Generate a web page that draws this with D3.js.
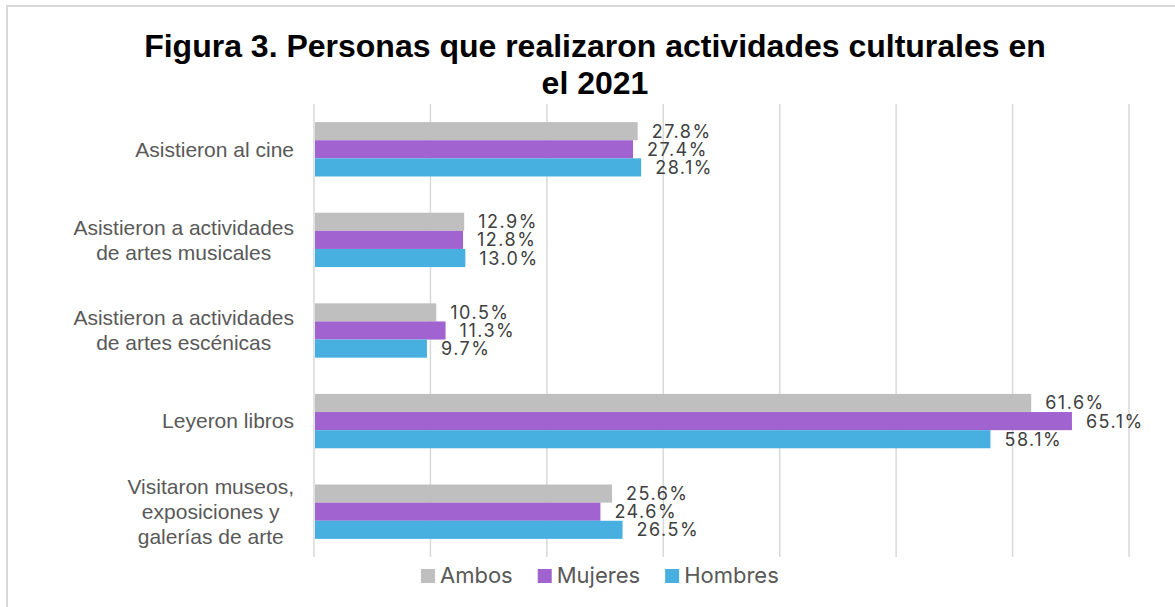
<!DOCTYPE html>
<html><head><meta charset="utf-8">
<script src="https://cdn.jsdelivr.net/npm/d3@7"></script>
<style>body{margin:0;background:#fff;}svg{display:block;}</style>
</head><body>
<script>
const categories = [
  ["Asistieron al cine"],
  ["Asistieron a actividades", "de artes musicales"],
  ["Asistieron a actividades", "de artes escénicas"],
  ["Leyeron libros"],
  ["Visitaron museos,", "exposiciones y", "galerías de arte"]
];
const seriesNames = ["Ambos", "Mujeres", "Hombres"];
const ambos   = [27.8, 12.9, 10.5, 61.6, 25.6];
const mujeres = [27.4, 12.8, 11.3, 65.1, 24.6];
const hombres = [28.1, 13.0, 9.7, 58.1, 26.5];
const xTicks = [0, 10, 20, 30, 40, 50, 60, 70];
const titleLines = ["Figura 3. Personas que realizaron actividades culturales en", "el 2021"];
const colors = ["#BFBFBF", "#A163CF", "#47B0E0"];

const W = 1175, H = 607;
const svg = d3.select("body").append("svg").attr("width", W).attr("height", H);
svg.append("rect").attr("x", 7).attr("y", 6).attr("width", W).attr("height", H)
  .attr("fill", "#fff").attr("stroke", "#D9D9D9").attr("stroke-width", 2);

// title
svg.append("g").selectAll("text").data(titleLines).join("text")
  .attr("x", 595).attr("y", (d, i) => 57 + i * 37)
  .attr("text-anchor", "middle")
  .style("font-family", "Liberation Sans, Arial, sans-serif")
  .style("font-weight", "bold").style("font-size", "32px").attr("fill", "#000")
  .text(d => d);

const x = d3.scaleLinear().domain([0, 70]).range([314, 1129]);
const keys = categories.map((c, i) => i);
const y = d3.scaleBand().domain(keys).range([104, 557]).paddingInner(0.4).paddingOuter(0.2);
const ySub = d3.scaleBand().domain(seriesNames).range([0, y.bandwidth()]);

// gridlines
svg.append("g").selectAll("line").data(xTicks).join("line")
  .attr("x1", d => x(d)).attr("x2", d => x(d)).attr("y1", 104).attr("y2", 557)
  .attr("stroke", "#D9D9D9").attr("stroke-width", 1.5);

const seriesVals = [ambos, mujeres, hombres];
const rows = [];
categories.forEach((c, i) => seriesNames.forEach((s, j) => rows.push({ i, s, j, v: seriesVals[j][i] })));

svg.append("g").selectAll("rect").data(rows).join("rect")
  .attr("x", x(0) + 1).attr("y", d => y(d.i) + ySub(d.s))
  .attr("width", d => x(d.v) - x(0) - 1).attr("height", ySub.bandwidth())
  .attr("fill", d => colors[d.j]);

svg.append("g").selectAll("text").data(rows).join("text")
  .attr("x", d => x(d.v) + 14).attr("y", d => y(d.i) + ySub(d.s) + ySub.bandwidth() / 2)
  .attr("dy", "0.36em")
  .style("font-family", "Inter, sans-serif").style("font-size", "18px")
  .style("letter-spacing", "1.5px").attr("fill", "#404040")
  .text(d => d.v.toFixed(1) + "%");

// category labels
const catG = svg.append("g");
categories.forEach((lines, i) => {
  const g = catG.append("g");
  const t = g.selectAll("text").data(lines).join("text")
    .attr("text-anchor", "middle")
    .style("font-family", "Liberation Sans, Arial, sans-serif").style("font-size", "21px")
    .attr("fill", "#595959").text(d => d);
  let maxW = 0;
  t.each(function () { maxW = Math.max(maxW, this.getComputedTextLength()); });
  const cx = 294 - maxW / 2;
  const lh = 25;
  const cy = y(i) + y.bandwidth() / 2;
  t.attr("x", cx).attr("y", (d, k) => cy + (k - (lines.length - 1) / 2) * lh).attr("dy", "0.35em");
});

// legend
const leg = svg.append("g");
let lx = 421;
seriesNames.forEach((s, j) => {
  leg.append("rect").attr("x", lx).attr("y", 569).attr("width", 14).attr("height", 14).attr("fill", colors[j]);
  const t = leg.append("text").attr("x", lx + 19).attr("y", 583)
    .style("font-family", "Inter, sans-serif").style("font-size", "22px").attr("fill", "#595959").text(s);
  lx += 19 + t.node().getComputedTextLength() + 25;
});
</script>
</body></html>
